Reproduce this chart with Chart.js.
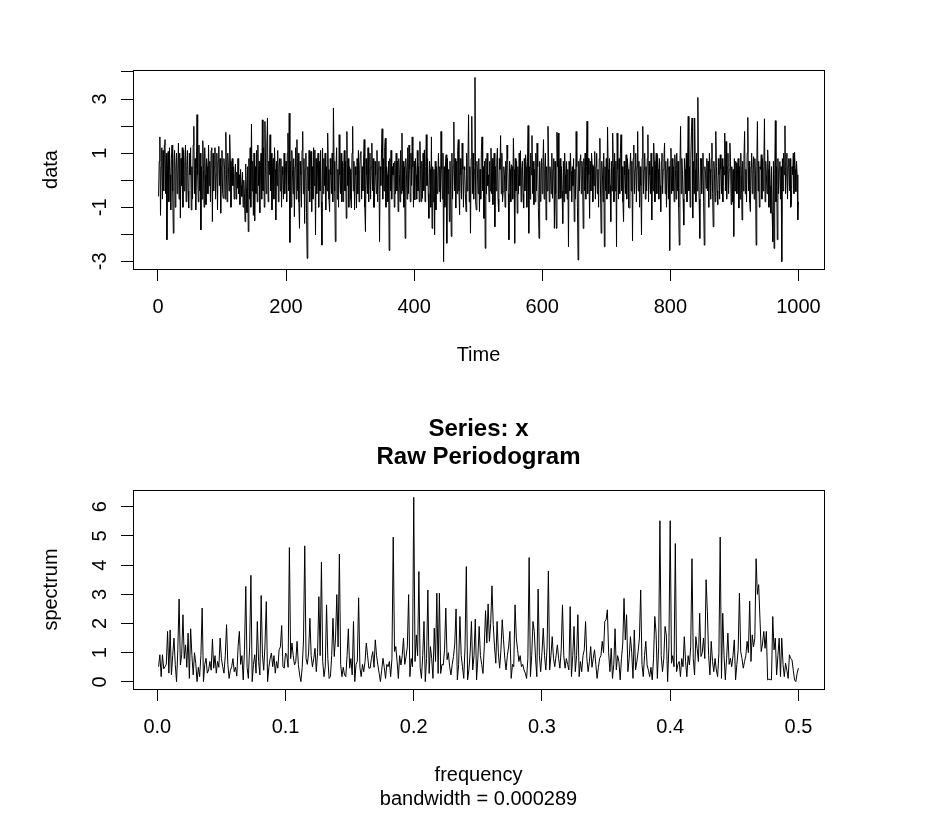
<!DOCTYPE html>
<html>
<head>
<meta charset="utf-8">
<script src="https://cdn.jsdelivr.net/npm/chart.js@4.4.1/dist/chart.umd.min.js"></script>
<style>
  body { margin: 0; background: #fff; }
  #wrap { position: relative; width: 936px; height: 820px; }
  canvas { position: absolute; left: 0; }
</style>
</head>
<body>
<div id="wrap">
  <canvas id="tsChart" width="936" height="410" style="top:0"></canvas>
  <canvas id="specChart" width="936" height="410" style="top:410px"></canvas>
</div>
<script>
// series "data", Time = 1..1000
const seriesValues = [
-0.6,0.7,1.6,-1.3,0.5,1.2,-0.7,1.1,-0.4,1.3,
1.5,-0.5,1.0,-2.2,0.4,1.06,-0.8,1.2,0.2,-1.1,
0.8,1.3,-0.4,-1.96,0.7,1.1,-1.0,0.5,1.0,-0.5,
0.4,1.37,-0.7,1.0,-1.4,0.8,-0.2,1.2,-1.0,1.12,
-0.4,0.7,1.3,-0.8,0.5,1.1,-0.4,-1.03,1.0,0.2,
1.2,-1.1,0.5,-0.7,1.3,1.99,-0.5,0.8,-1.1,0.4,
2.42,0.2,-0.8,1.3,-0.4,1.0,-1.84,0.5,-0.7,1.46,
0.4,-1.0,1.2,0.2,-0.9,0.8,0.5,-0.5,1.3,-0.2,
0.7,-0.8,1.1,1.2,-1.53,1.0,-0.4,0.5,1.2,-0.7,
0.2,1.0,-1.1,0.7,1.25,-0.2,0.8,-1.22,0.5,1.1,
-0.5,-0.67,0.8,0.4,-0.7,1.77,0.2,-0.8,1.0,0.5,
-0.4,1.68,0.7,-1.0,0.4,0.8,-0.2,0.5,-0.7,0.2,
0.6,-0.7,0.3,-0.3,0.8,-0.5,0.2,-0.9,0.4,-0.2,
-0.6,0.3,-1.0,0.0,-0.5,-1.53,0.6,-0.3,-1.2,0.5,
-1.9,0.8,-0.7,1.2,-1.0,2.07,-0.4,0.7,-1.3,1.0,
-1.5,0.5,-0.5,1.1,-0.8,1.3,-0.2,0.7,-1.2,0.4,
1.0,-0.7,2.23,-0.4,1.2,-1.0,2.17,0.5,-0.5,1.3,
2.3,-0.8,0.7,0.2,1.68,-0.4,1.0,-1.1,0.5,0.8,
-0.7,1.2,0.4,-1.47,0.7,-0.2,1.1,-0.8,0.5,0.8,
-0.4,0.8,-1.0,0.5,0.2,-0.7,1.0,-0.5,0.4,0.7,
-0.8,1.0,1.74,-0.4,2.48,-2.3,0.7,-1.0,1.1,0.4,
-0.5,0.8,-1.35,0.5,1.2,-0.7,1.5,-0.4,1.0,-0.8,
-1.78,0.7,0.2,-1.0,1.1,1.8,-0.5,0.8,-1.6,0.4,
1.0,-1.2,-2.89,0.5,-0.4,1.1,-0.8,0.7,1.06,-1.16,
0.5,-0.7,1.2,-0.2,1.12,-2.02,0.8,-0.5,0.4,1.0,
-1.0,0.7,-0.4,1.1,-0.8,-2.4,1.18,-0.5,0.8,-0.2,
1.0,-1.1,0.5,-0.4,1.74,0.4,-0.7,-1.16,0.8,0.2,
-0.5,1.0,-0.8,2.67,0.7,-0.4,-2.27,0.5,1.2,-0.7,
0.4,-1.0,1.68,0.2,-0.5,1.0,-0.8,0.7,-0.79,0.5,
1.1,-0.4,0.7,-1.41,1.8,-0.2,0.8,-1.0,0.5,0.4,
-0.7,-1.03,1.0,1.99,-0.4,0.7,-1.1,0.5,0.2,-1.03,
0.8,-0.5,1.1,-0.8,0.4,1.0,1.06,-0.7,0.5,-0.4,
0.7,1.5,-1.0,-1.9,0.8,0.2,-0.5,1.2,-0.8,0.4,
1.0,-0.7,0.5,1.37,-0.4,0.8,-1.0,-1.0,0.7,0.2,
-0.5,1.1,-0.8,0.4,0.7,-2.27,0.5,-0.2,1.0,1.9,
-0.7,0.8,-0.4,1.2,1.55,-1.0,0.5,0.2,-0.8,0.7,
-2.6,0.8,-0.4,1.1,-0.7,0.5,0.2,0.63,-1.0,0.7,
-0.5,1.0,-0.4,0.7,-1.16,0.8,0.2,-0.8,1.1,-0.5,
1.74,-0.4,0.7,-1.0,0.5,-2.15,0.8,0.2,-0.7,1.2,
-0.5,1.3,0.4,-0.8,1.0,-0.2,1.6,0.5,-1.0,0.7,
-0.73,0.8,0.2,-0.7,1.1,-0.4,0.5,-0.8,1.43,0.4,
-0.79,0.7,-0.67,1.0,-0.4,1.12,-0.8,0.5,1.68,-0.2,
0.8,-0.5,-1.41,0.7,0.4,-1.0,1.6,-1.78,0.5,-0.8,
0.4,-2.02,0.7,-1.1,0.5,-0.5,0.2,1.0,-0.42,0.5,
-0.8,1.8,0.4,-0.7,1.0,-3.01,0.5,-1.0,0.7,0.94,
-2.33,0.8,-0.5,0.4,-1.53,0.7,-0.4,-2.08,1.0,-0.7,
0.5,2.15,-0.4,0.8,-1.03,0.7,-0.5,1.1,1.5,-0.4,
-1.28,0.8,0.2,-0.7,1.37,0.4,-1.0,0.5,0.38,-0.5,
-1.16,1.0,-0.4,0.7,2.42,-0.8,0.5,-1.96,0.8,2.36,
-0.5,1.0,-0.7,0.4,3.8,-0.8,-1.1,0.7,0.2,-0.5,
0.8,-1.16,0.4,-0.7,1.1,1.6,-0.4,0.5,-1.41,0.7,
-2.52,0.8,-0.5,1.0,-0.2,0.2,-0.8,0.7,-0.4,1.18,
-0.5,0.8,-0.9,0.4,1.0,-1.72,0.5,-0.4,0.7,1.18,
-0.7,-1.16,0.8,0.4,1.65,-0.5,1.0,-0.8,-0.42,0.5,
0.2,-1.0,0.7,-0.4,1.3,0.8,-0.5,-2.2,0.7,0.4,
-0.8,0.57,0.5,-0.7,1.55,0.4,-2.33,0.8,-0.4,0.7,
-1.22,0.5,-0.5,1.0,-0.2,1.09,-0.8,0.4,0.7,-0.5,
-1.03,0.8,-0.4,0.94,0.5,-1.0,0.7,2.02,-1.96,0.5,
-0.7,1.0,0.2,1.65,-0.5,0.7,-0.9,0.4,-0.8,1.0,
-0.4,1.37,0.5,-1.0,-2.15,0.7,-0.79,0.4,0.8,-0.5,
0.5,1.5,-0.7,0.4,1.0,-1.47,0.5,-0.4,1.99,0.7,
-0.8,0.5,0.2,-0.5,1.0,-0.67,0.4,0.8,-1.78,0.7,
-0.5,-1.78,1.77,0.5,1.74,-0.7,0.4,0.8,-0.67,0.5,
-0.4,-1.6,0.7,-0.8,1.0,0.2,-0.5,0.69,-0.7,0.4,
-2.46,0.7,-0.4,1.0,0.32,-0.8,0.5,-0.2,0.8,-1.53,
0.4,-0.7,1.8,0.5,-1.0,-2.95,0.7,-0.4,0.8,0.94,
-0.5,0.7,0.2,-1.78,0.8,-0.4,1.0,-0.7,0.5,2.18,
-0.5,0.8,0.2,-1.41,0.7,-0.4,1.0,0.57,-0.8,0.5,
-0.2,1.06,-0.7,0.5,1.0,-0.5,0.4,-1.0,0.8,1.55,
-0.4,-1.96,0.7,0.2,-0.8,1.0,-2.46,0.5,-0.4,0.8,
-0.7,1.96,0.4,-0.5,0.8,-0.2,-1.53,0.7,-0.4,1.74,
0.5,-0.8,1.0,-0.4,0.7,-2.46,1.74,0.4,-0.7,0.8,
-0.5,1.0,1.68,-0.4,0.5,-0.8,-1.53,0.7,0.2,-0.5,
0.94,-0.7,0.8,0.4,-1.0,-1.03,0.5,1.0,-0.4,0.7,
-2.24,0.8,1.3,-0.5,0.4,1.0,-0.8,0.5,1.8,-0.4,
0.7,-1.0,0.5,-0.2,-2.02,0.8,1.99,-0.5,0.4,1.0,
-0.7,0.5,-0.4,0.8,1.68,-0.8,0.7,0.2,-0.5,1.0,
-1.47,0.5,-0.4,1.37,0.7,-0.8,0.4,1.0,-0.5,0.94,
0.4,-0.7,0.8,-0.2,-1.16,0.7,1.0,-0.5,0.4,0.8,
1.37,-0.5,0.7,-1.0,0.4,0.8,-0.7,0.5,-2.6,0.7,
1.18,-0.5,0.8,-0.4,0.5,-0.8,0.94,0.4,-0.7,1.0,
-0.4,0.7,-1.0,-2.4,0.5,1.99,-0.5,0.8,0.2,-0.7,
-1.66,0.8,0.4,-0.5,1.0,-0.8,0.7,2.36,-0.4,0.5,
-1.0,0.8,1.8,2.3,-1.4,0.7,-0.5,2.3,0.4,-0.8,
1.0,-0.4,3.06,0.5,-0.7,-2.15,0.8,0.8,-0.5,0.4,
1.0,-0.8,-2.4,0.5,0.2,-0.3,0.8,-0.4,0.7,-1.0,
1.0,0.4,-0.7,0.8,1.37,-0.5,-1.72,0.7,0.2,-0.8,
1.8,0.5,-0.4,-0.9,0.8,0.2,-0.7,0.94,0.4,-0.5,
0.8,-0.8,0.5,0.2,1.74,-0.4,1.43,-0.7,0.5,1.0,
-0.5,0.4,1.37,0.7,-0.9,0.5,-0.8,0.4,-2.08,0.8,
-0.4,0.7,0.63,-0.5,0.4,0.8,-1.03,0.5,-0.7,1.0,
0.2,-1.47,0.7,-0.4,0.8,1.8,-0.5,0.4,-0.8,1.0,
2.32,-0.4,0.7,-0.8,-1.16,0.5,1.0,-0.5,0.4,0.87,
-0.7,0.8,0.2,-2.4,0.5,2.17,-0.4,0.7,-1.0,0.5,
0.4,0.94,-0.7,0.8,-0.4,0.5,2.27,-0.8,0.7,0.2,
-0.5,1.12,0.4,-1.0,0.7,-0.2,-1.22,0.5,-1.2,-2.27,
0.7,-2.52,0.2,2.2,-0.8,0.5,-2.2,0.8,-0.5,0.4,
0.69,-0.7,0.5,-3.01,0.8,-0.4,1.0,0.2,2.01,-0.5,
0.2,1.0,-0.7,0.5,0.8,-0.4,0.8,-1.0,-0.9,0.5,
0.2,1.0,-0.5,1.03,0.4,-0.42,0.7,0.2,-1.47,-0.8
];

// raw periodogram, frequency = 1/1000 .. 500/1000
const spectrumValues = [
0.52,0.93,0.18,0.93,0.45,0.52,0.6,1.73,0.3,1.78,
0.24,0.9,1.5,0.6,0.01,1.1,2.84,0.58,0.93,2.3,
0.8,1.27,0.5,1.67,0.12,1.82,0.9,0.24,1.0,0.64,
0.01,0.5,0.18,0.9,2.53,0.01,0.6,0.81,0.3,0.41,
0.7,0.4,1.47,0.47,0.9,0.3,0.7,0.5,1.5,0.8,
0.52,0.3,0.9,1.96,0.6,0.12,0.4,0.52,0.8,0.35,
0.5,0.2,1.21,1.73,0.6,0.9,0.07,1.1,3.27,0.5,
0.12,1.2,3.65,0.01,0.6,0.93,0.3,2.07,0.7,0.24,
2.96,0.93,0.4,1.3,2.75,0.01,0.5,0.8,0.99,0.52,
0.9,0.3,0.7,0.47,1.1,1.2,1.93,0.52,0.47,0.99,
0.93,0.5,4.6,0.8,1.33,0.9,0.58,0.7,1.39,0.6,
0.24,0.01,0.5,1.4,4.66,0.81,0.6,0.99,2.18,0.9,
0.52,0.8,1.15,0.35,1.0,2.92,0.9,4.1,0.7,0.18,
0.52,2.64,0.8,0.12,0.18,0.9,2.18,0.87,1.5,2.99,
1.2,4.38,0.6,0.18,0.5,0.24,0.18,0.9,1.82,0.47,
0.8,0.24,2.07,0.01,0.6,0.7,2.88,0.5,0.18,0.6,
0.35,0.7,1.33,0.9,0.47,0.47,0.8,1.04,0.5,1.44,
0.9,0.58,0.3,0.01,0.4,0.81,0.5,0.12,0.6,0.52,
0.7,0.18,0.8,4.96,1.04,1.21,0.7,0.12,0.9,0.58,
0.9,1.5,0.6,0.87,1.2,2.99,0.18,0.8,0.52,6.32,
0.7,1.61,0.9,3.78,0.5,0.12,0.9,2.07,0.01,0.8,
3.15,0.29,1.21,0.8,0.12,1.84,0.7,3.04,0.29,3.04,
0.29,0.6,0.58,1.1,2.53,0.76,1.0,0.52,0.24,0.6,
0.87,1.3,2.5,0.07,0.6,2.24,0.9,0.52,0.12,1.2,
3.95,0.07,0.41,1.0,2.07,0.41,0.9,2.15,0.07,0.8,
1.9,0.9,0.6,0.29,1.2,2.44,1.33,2.67,1.39,2.0,
3.29,1.96,1.2,0.64,2.07,1.0,0.47,1.1,2.13,1.44,
0.8,0.41,0.9,1.2,1.73,0.12,0.6,0.52,2.64,1.5,
1.1,0.7,0.9,0.52,0.6,0.41,0.3,0.12,0.81,4.26,
0.18,0.9,2.07,1.73,0.8,0.18,3.18,0.9,0.35,1.0,
1.84,0.9,0.41,1.2,3.8,0.41,0.9,1.55,0.8,0.52,
0.9,1.27,0.8,0.47,1.1,2.64,0.9,0.47,0.8,0.6,
0.41,2.58,0.18,0.9,1.9,0.35,0.9,2.3,0.18,0.7,
0.35,0.9,1.1,2.07,0.8,0.35,0.7,1.21,0.5,0.81,
1.1,0.6,0.12,0.5,0.81,0.9,1.39,1.0,2.07,2.13,
2.47,1.0,0.35,1.15,0.12,0.6,1.82,0.41,0.9,0.7,
0.07,0.8,1.3,2.86,1.44,2.3,0.35,0.8,1.55,1.0,
0.12,1.78,0.41,0.7,1.04,1.5,3.15,0.6,0.18,0.9,
1.39,0.58,0.4,0.18,0.5,0.07,0.8,2.24,1.67,0.12,
1.2,5.52,0.9,0.35,0.8,1.9,1.61,0.01,1.2,5.52,
0.64,0.9,0.52,4.74,0.35,0.6,0.7,0.18,0.8,0.52,
1.55,0.7,0.18,0.9,0.58,1.2,4.22,0.8,0.24,1.55,
1.15,0.7,2.35,0.87,1.0,1.5,0.8,3.5,2.41,0.9,
0.24,1.39,0.7,0.35,0.8,0.41,0.18,1.0,4.96,0.12,
2.35,0.9,0.07,0.8,1.67,0.6,0.81,0.52,0.9,1.44,
0.07,0.6,1.1,3.04,1.04,0.8,0.47,0.7,0.9,1.39,
1.0,2.77,0.7,1.61,1.2,1.5,4.22,3.0,3.33,2.18,
1.04,1.3,1.73,1.15,1.73,0.07,0.1,0.08,0.07,2.24,
1.1,1.5,0.24,0.9,1.5,0.18,1.5,0.6,0.18,0.64,
0.4,0.12,0.93,0.8,0.76,0.4,0.07,0.01,0.3,0.47
];

const timeTicks = [0, 200, 400, 600, 800, 1000];
const dataTicks = [-3, -2, -1, 0, 1, 2, 3, 4];
const dataTickLabels = [-3, -1, 1, 3];
const freqTicks = [0, 0.1, 0.2, 0.3, 0.4, 0.5];
const specTicks = [0, 1, 2, 3, 4, 5, 6];
const specTickLabels = [0, 1, 2, 3, 4, 5, 6];

const FONT = '"Liberation Sans", Arial, Helvetica, sans-serif';

// R style ranges: data range widened by 4% each side
function rRange(arr) {
  const lo = Math.min(...arr), hi = Math.max(...arr);
  const d = (hi - lo) * 0.04;
  return [lo - d, hi + d];
}

// box, rotated y labels and the titles, drawn over the chart
function rFrame(o) {
  return {
    id: 'rFrame',
    afterDraw(chart) {
      const ctx = chart.ctx, a = chart.chartArea, ys = chart.scales.y;
      const cx = (a.left + a.right) / 2;
      ctx.save();
      ctx.strokeStyle = '#000';
      ctx.lineWidth = 1;
      ctx.strokeRect(a.left + 0.5, a.top + 0.5, a.right - a.left, a.bottom - a.top);
      ctx.fillStyle = '#000';
      ctx.font = '20px ' + FONT;
      ctx.textAlign = 'center';
      ctx.textBaseline = 'alphabetic';
      o.yLabels.forEach(v => {
        ctx.save();
        ctx.translate(105.5, ys.getPixelForValue(v));
        ctx.rotate(-Math.PI / 2);
        ctx.fillText(String(v), 0, 0);
        ctx.restore();
      });
      ctx.save();
      ctx.translate(56.5, (a.top + a.bottom) / 2);
      ctx.rotate(-Math.PI / 2);
      ctx.fillText(o.yTitle, 0, 0);
      ctx.restore();
      o.xTitle.forEach(t => ctx.fillText(t[0], cx, t[1]));
      if (o.main) {
        ctx.font = 'bold 24px ' + FONT;
        o.main.forEach(t => ctx.fillText(t[0], cx, t[1]));
      }
      ctx.restore();
    }
  };
}

function axisX(range, ticks, fmt, h) {
  return {
    type: 'linear', position: 'bottom', min: range[0], max: range[1],
    afterBuildTicks: s => { s.ticks = ticks.map(v => ({ value: v })); },
    afterFit: s => { s.height = h; },
    ticks: { color: '#000', font: { family: FONT, size: 20 }, padding: 14,
             maxRotation: 0, autoSkip: false, callback: fmt },
    grid: { display: true, drawOnChartArea: false, drawTicks: true, tickLength: 12, color: '#000', lineWidth: 1 },
    border: { display: true, color: '#000', width: 1 }
  };
}

function axisY(range, ticks) {
  return {
    type: 'linear', min: range[0], max: range[1],
    afterBuildTicks: s => { s.ticks = ticks.map(v => ({ value: v })); },
    afterFit: s => { s.width = 133; },
    ticks: { display: false },
    grid: { display: true, drawOnChartArea: false, drawTicks: true, tickLength: 12, color: '#000', lineWidth: 1 },
    border: { display: true, color: '#000', width: 1 }
  };
}

function lineSet(xs, ys) {
  return [{
    data: ys.map((v, i) => ({ x: xs[i], y: v })),
    borderColor: '#000', borderWidth: 1, pointRadius: 0, tension: 0, fill: false
  }];
}

const timeIdx = seriesValues.map((v, i) => i + 1);
const freqIdx = spectrumValues.map((v, i) => (i + 1) / 1000);

new Chart(document.getElementById('tsChart'), {
  type: 'line',
  data: { datasets: lineSet(timeIdx, seriesValues) },
  options: {
    responsive: false, animation: false, parsing: false,
    layout: { padding: { left: 0, right: 112, top: 70, bottom: 0 } },
    plugins: { legend: { display: false }, tooltip: { enabled: false } },
    scales: {
      x: axisX(rRange(timeIdx), timeTicks, v => String(v), 141),
      y: axisY(rRange(seriesValues), dataTicks)
    }
  },
  plugins: [rFrame({ yLabels: dataTickLabels, yTitle: 'data', xTitle: [['Time', 361]] })]
});

new Chart(document.getElementById('specChart'), {
  type: 'line',
  data: { datasets: lineSet(freqIdx, spectrumValues) },
  options: {
    responsive: false, animation: false, parsing: false,
    layout: { padding: { left: 0, right: 112, top: 80, bottom: 0 } },
    plugins: { legend: { display: false }, tooltip: { enabled: false } },
    scales: {
      x: axisX(rRange(freqIdx), freqTicks, v => Number(v).toFixed(1), 131),
      y: axisY(rRange(spectrumValues), specTicks)
    }
  },
  plugins: [rFrame({
    yLabels: specTickLabels, yTitle: 'spectrum',
    xTitle: [['frequency', 371], ['bandwidth = 0.000289', 395]],
    main: [['Series: x', 25.5], ['Raw Periodogram', 54.3]]
  })]
});
</script>
</body>
</html>
